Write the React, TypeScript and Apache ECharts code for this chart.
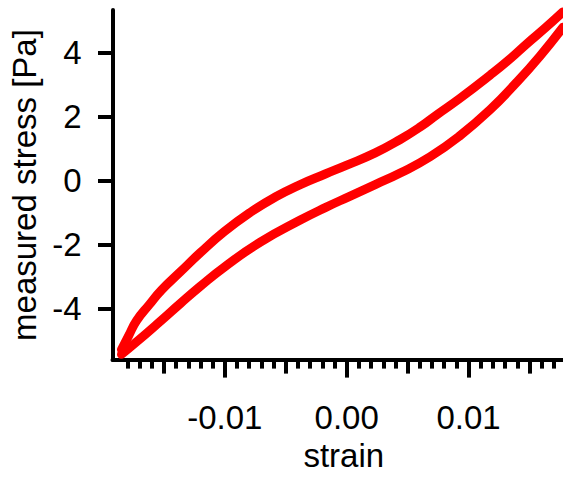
import React, { useEffect, useRef } from "react";
import * as echarts from "echarts";

// Upper branch of the loop (strain, stress [Pa])
const upperStrain = [-0.01848, -0.01791, -0.01725, -0.01619, -0.0152, -0.01365, -0.01201, -0.01004, -0.00791, -0.00586, -0.00381, -0.00176, -0.00004, 0.00234, 0.00439, 0.00602, 0.00742, 0.0093, 0.01176, 0.0134, 0.0148, 0.01627, 0.01775];
const upperStress = [-5.28, -4.86, -4.38, -3.87, -3.42, -2.85, -2.25, -1.59, -0.99, -0.51, -0.12, 0.21, 0.48, 0.87, 1.29, 1.68, 2.07, 2.58, 3.3, 3.81, 4.29, 4.77, 5.28];

// Lower branch of the loop
const lowerStrain = [-0.01848, -0.01725, -0.01561, -0.01365, -0.01201, -0.01004, -0.00709, -0.00381, -0.00176, 0.00029, 0.00234, 0.00439, 0.00684, 0.0093, 0.01176, 0.01398, 0.01586, 0.01775];
const lowerStress = [-5.43, -5.04, -4.5, -3.84, -3.3, -2.7, -1.92, -1.23, -0.84, -0.48, -0.12, 0.24, 0.75, 1.41, 2.22, 3.09, 3.9, 4.8];

// Axis ticks
const xMajorTicks = [-0.01, 0, 0.01];
const xMidTicks = [-0.015, -0.005, 0.005, 0.015];
const xMinorTicks = [-0.018, -0.017, -0.016, -0.014, -0.013, -0.012, -0.011, -0.009, -0.008, -0.007, -0.006, -0.004, -0.003, -0.002, -0.001, 0.001, 0.002, 0.003, 0.004, 0.006, 0.007, 0.008, 0.009, 0.011, 0.012, 0.013, 0.014, 0.016, 0.017];
const yTicks = [-4, -2, 0, 2, 4];

const X_MIN = -0.01922;
const X_MAX = 0.01775;
const Y_MIN = -5.61;
const Y_MAX = 5.34;

const FONT = "'Liberation Sans', Arial, Helvetica, sans-serif";
const FS = 33;

export default function App() {
  const ref = useRef<HTMLDivElement>(null);
  useEffect(() => {
    document.body.style.margin = "0";
    if (!ref.current) return;
    const chart = echarts.init(ref.current, null, { renderer: "svg" });
    const zip = (xs: number[], ys: number[]) => xs.map((x, i) => [x, ys[i]]);
    const baseX = {
      type: "value" as const,
      min: X_MIN,
      max: X_MAX,
      position: "bottom" as const,
      splitLine: { show: false },
      axisLine: { show: false, onZero: false },
    };
    const lineStyle = { color: "#ff0000", width: 9, cap: "round", join: "round" };
    chart.setOption({
      animation: false,
      backgroundColor: "#ffffff",
      grid: { left: 112.5, right: 0, top: 10, bottom: 477 - 374.5, containLabel: false },
      xAxis: [
        {
          ...baseX,
          axisLine: { show: true, onZero: false, lineStyle: { color: "#000", width: 4 } },
          axisTick: { show: true, customValues: xMajorTicks, length: 17.5, lineStyle: { color: "#000", width: 4 } },
          axisLabel: {
            show: true,
            customValues: xMajorTicks,
            formatter: (v: number) => v.toFixed(2),
            color: "#000",
            fontSize: FS,
            fontFamily: FONT,
            margin: 41,
          },
          name: "strain",
          nameLocation: "middle",
          nameGap: 72,
          nameTextStyle: { color: "#000", fontSize: FS, fontFamily: FONT, padding: [0, 0, 0, 12] },
        },
        {
          ...baseX,
          axisTick: { show: true, customValues: xMidTicks, length: 13.5, lineStyle: { color: "#000", width: 4 } },
          axisLabel: { show: false },
        },
        {
          ...baseX,
          axisTick: { show: true, customValues: xMinorTicks, length: 8.5, lineStyle: { color: "#000", width: 4 } },
          axisLabel: { show: false },
        },
      ],
      yAxis: {
        type: "value",
        min: Y_MIN,
        max: Y_MAX,
        splitLine: { show: false },
        axisLine: { show: true, onZero: false, lineStyle: { color: "#000", width: 4 } },
        axisTick: { show: true, customValues: yTicks, length: 14.5, lineStyle: { color: "#000", width: 4 } },
        axisLabel: {
          show: true,
          customValues: yTicks,
          color: "#000",
          fontSize: FS,
          fontFamily: FONT,
          margin: 31,
        },
        name: "measured stress [Pa]",
        nameLocation: "middle",
        nameGap: 62,
        nameTextStyle: { color: "#000", fontSize: FS, fontFamily: FONT },
      },
      series: [
        {
          type: "line",
          data: zip(upperStrain, upperStress),
          smooth: 0.5,
          showSymbol: false,
          lineStyle,
          xAxisIndex: 0,
        },
        {
          type: "line",
          data: zip(lowerStrain, lowerStress),
          smooth: 0.5,
          showSymbol: false,
          lineStyle,
          xAxisIndex: 0,
        },
      ],
    });
    return () => chart.dispose();
  }, []);
  return (
    <div
      ref={ref}
      style={{ position: "absolute", left: 0, top: 0, width: 563, height: 477, background: "#fff" }}
    />
  );
}
